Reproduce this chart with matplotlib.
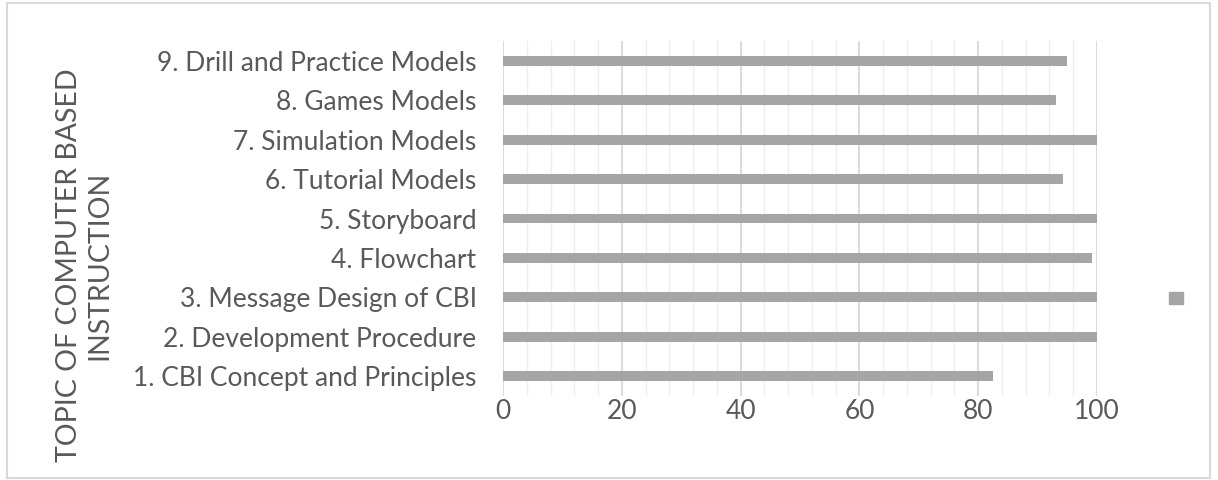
import numpy as np
import matplotlib
matplotlib.use("Agg")
from matplotlib import pyplot as plt
from matplotlib.patches import Rectangle
from matplotlib.ticker import MultipleLocator

topics = ['1. CBI Concept and Principles', '2. Development Procedure',
          '3. Message Design of CBI', '4. Flowchart', '5. Storyboard',
          '6. Tutorial Models', '7. Simulation Models', '8. Games Models',
          '9. Drill and Practice Models']
values = [82.5, 100, 100, 99.2, 100, 94.2, 100, 93.1, 94.9]
xticks = [0, 20, 40, 60, 80, 100]

plt.rcParams['font.family'] = ['Lato', 'DejaVu Sans']
txt = '#595959'

fig = plt.figure(figsize=(12.18, 4.8), dpi=100)
ax = fig.add_axes([503/1218, 1-396/480, (1097-503)/1218, (396-41)/480])

y = np.arange(len(topics))
bars = ax.barh(y, values, height=0.25, color='#a5a5a5', zorder=3)

ax.set_xlim(0, 100)
ax.set_ylim(-0.5, len(topics) - 0.5)
ax.set_xticks(xticks)
ax.xaxis.set_minor_locator(MultipleLocator(4))
ax.set_yticks(y)
ax.set_yticklabels(topics)
ax.tick_params(axis='both', which='both', length=0, labelsize=19, colors=txt)
ax.tick_params(axis='y', pad=19)
ax.tick_params(axis='x', pad=2)
ax.grid(axis='x', which='major', color='#d4d4d4', lw=1.2, zorder=0)
ax.grid(axis='x', which='minor', color='#eeeeee', lw=1.0, zorder=0)
for s in ax.spines.values():
    s.set_visible(False)

fig.text(84/1218, 1-265/480, 'TOPIC OF COMPUTER BASED\nINSTRUCTION', rotation=90,
         ha='center', va='center', fontsize=20.5, color=txt, linespacing=1.2)

ax.legend([Rectangle((0, 0), 1, 1, color='#a5a5a5')], [''], loc='center left',
          bbox_to_anchor=(1169/1218, 1-298/480), bbox_transform=fig.transFigure,
          frameon=False, handlelength=1.0, handleheight=1.0, handletextpad=0,
          borderpad=0, borderaxespad=0)

fig.patches.append(Rectangle((7/1218, 2/480), 1203/1218, 475/480, transform=fig.transFigure,
                             fill=False, edgecolor='#d9d9d9', lw=1.5))

fig.savefig('out.png', dpi=100, facecolor='white')
